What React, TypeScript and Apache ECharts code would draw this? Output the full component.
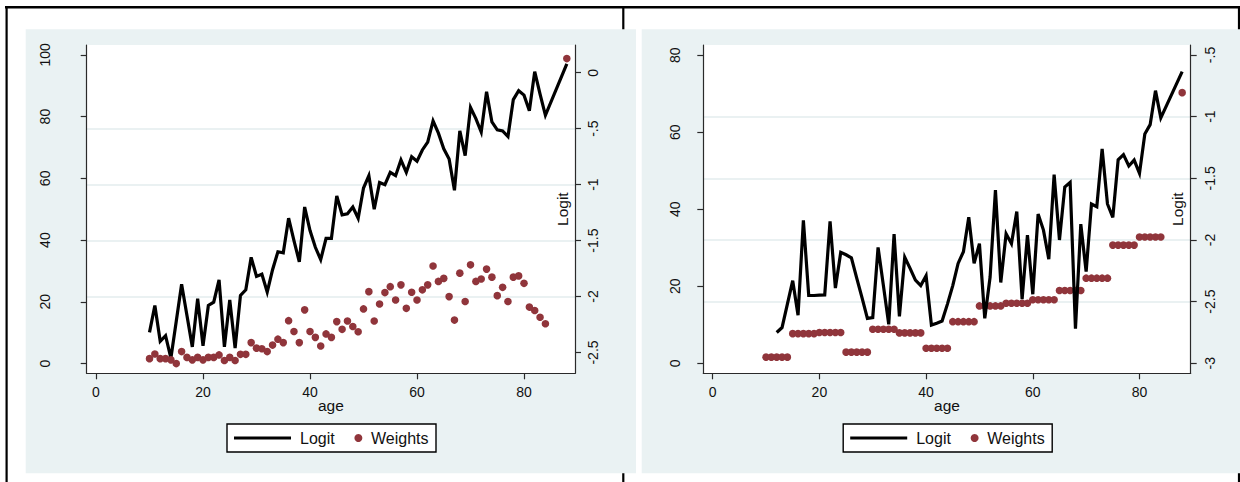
import React, { useEffect, useRef } from "react";
import * as echarts from "echarts";

// ---------- data ----------
const ages = [
  10, 11, 12, 13, 14, 15, 16, 17, 18, 19, 20, 21, 22, 23, 24, 25, 26, 27, 28, 29,
  30, 31, 32, 33, 34, 35, 36, 37, 38, 39, 40, 41, 42, 43, 44, 45, 46, 47, 48, 49,
  50, 51, 52, 53, 54, 55, 56, 57, 58, 59, 60, 61, 62, 63, 64, 65, 66, 67, 68, 69,
  70, 71, 72, 73, 74, 75, 76, 77, 78, 79, 80, 81, 82, 83, 84, 88,
];

// left panel
const logitLeft = [
  -2.32, -2.08, -2.4, -2.35, -2.55, -2.22, -1.89, -2.17, -2.45, -2.02,
  -2.44, -2.08, -2.05, -1.85, -2.45, -2.03, -2.46, -1.99, -1.94, -1.65,
  -1.82, -1.8, -1.96, -1.76, -1.6, -1.61, -1.3, -1.5, -1.69, -1.2,
  -1.41, -1.56, -1.67, -1.48, -1.48, -1.1, -1.27, -1.26, -1.2, -1.3,
  -1.03, -0.92, -1.22, -0.98, -1.0, -0.89, -0.92, -0.78, -0.89, -0.75,
  -0.79, -0.69, -0.62, -0.43, -0.54, -0.68, -0.77, -1.05, -0.52, -0.74,
  -0.31, -0.41, -0.53, -0.17, -0.44, -0.51, -0.52, -0.57, -0.24, -0.16,
  -0.2, -0.34, 0.01, -0.19, -0.38, 0.08,
];
const weightsLeft = [
  1.6, 3.1, 1.6, 1.6, 1.2, 0.0, 3.9, 2.0, 1.2, 2.0,
  1.2, 2.0, 2.0, 2.8, 1.0, 2.0, 1.0, 3.0, 3.0, 6.8,
  5.0, 4.8, 3.9, 6.0, 7.9, 6.8, 13.9, 10.4, 6.8, 17.4,
  10.4, 8.5, 5.7, 9.6, 8.5, 13.6, 11.1, 13.8, 12.0, 10.3,
  17.7, 23.3, 13.8, 19.3, 23.0, 24.9, 20.6, 25.5, 17.9, 23.1,
  20.6, 23.9, 25.5, 31.6, 26.6, 27.6, 21.7, 14.1, 29.3, 20.1,
  32.0, 26.6, 27.4, 30.6, 28.0, 22.0, 24.7, 20.1, 28.0, 28.4,
  26.0, 18.3, 17.2, 15.0, 12.9, 98.8,
];

// right panel
const logitRight = [
  null, null, -2.75, -2.71, -2.52, -2.33, -2.61, -1.84, -2.45, -2.45,
  -2.447, -2.446, -1.85, -2.39, -2.1, -2.12, -2.145, -2.31, -2.47, -2.636,
  -2.63, -2.06, -2.37, -2.684, -1.952, -2.62, -2.14, -2.23, -2.325, -2.37,
  -2.29, -2.69, -2.675, -2.657, -2.52, -2.37, -2.19, -2.095, -1.816, -2.19,
  -2.03, -2.636, -2.3, -1.595, -2.345, -1.95, -2.03, -1.77, -2.48, -1.96,
  -2.44, -1.79, -1.92, -2.155, -1.47, -2.0, -1.57, -1.533, -2.72, -1.872,
  -2.257, -1.708, -1.73, -1.262, -1.708, -1.816, -1.35, -1.308, -1.4, -1.352,
  -1.46, -1.14, -1.065, -0.789, -1.01, -0.635,
];
const weightsRight = [
  1.6, 1.6, 1.6, 1.6, 1.6, 7.7, 7.7, 7.7, 7.7, 7.7,
  8.0, 8.0, 8.0, 8.0, 8.0, 2.9, 2.9, 2.9, 2.9, 2.9,
  8.85, 8.85, 8.85, 8.85, 8.85, 7.9, 7.9, 7.9, 7.9, 7.9,
  3.9, 3.9, 3.9, 3.9, 3.9, 10.8, 10.8, 10.8, 10.8, 10.8,
  14.9, 14.9, 14.9, 14.9, 14.9, 15.6, 15.6, 15.6, 15.6, 15.6,
  16.5, 16.5, 16.5, 16.5, 16.5, 18.9, 18.9, 18.9, 18.9, 18.9,
  22.1, 22.1, 22.1, 22.1, 22.1, 30.7, 30.7, 30.7, 30.7, 30.7,
  32.8, 32.8, 32.8, 32.8, 32.8, 70.3,
];

const xTicks = [0, 20, 40, 60, 80];
const weightTicksLeft = [0, 20, 40, 60, 80, 100];
const logitTicksLeft = [-2.5, -2, -1.5, -1, -0.5, 0];
const weightTicksRight = [0, 20, 40, 60, 80];
const logitTicksRight = [-3, -2.5, -2, -1.5, -1, -0.5];

const lineName = "Logit";
const dotName = "Weights";
const xTitle = "age";
const y2Title = "Logit";

// ---------- styling / layout ----------
const FONT = '"Liberation Sans", Arial, Helvetica, sans-serif';
const MAROON = "#90353B";
const PANEL = "#EAF2F3";
const GRIDC = "#E3ECEE";
const AXIS = "#2a2a2a";

const fmt = (v: number) => String(v).replace(/^(-?)0\./, "$1.");

const panels = [
  {
    gridLeft: 86.7, gridWidth: 488.3,
    xMin: -1.74, xMax: 89.53,
    wMin: -3.15, wMax: 103.2,
    lMin: -2.686, lMax: 0.248,
    leftMargin: 35, rightMargin: 11,
    panelX: 25.7, legendX: 227,
    lineOnTop: false,
    weightTicks: weightTicksLeft, logitTicks: logitTicksLeft,
    logit: logitLeft, weights: weightsLeft,
  },
  {
    gridLeft: 703.3, gridWidth: 487.4,
    xMin: -1.76, xMax: 89.6,
    wMin: -2.6, wMax: 82.68,
    lMin: -3.081, lMax: -0.419,
    leftMargin: 21, rightMargin: 12,
    panelX: 641.7, legendX: 843.2,
    lineOnTop: true,
    weightTicks: weightTicksRight, logitTicks: logitTicksRight,
    logit: logitRight, weights: weightsRight,
  },
];

const GRID_TOP = 45;
const GRID_HEIGHT = 328.3;

function buildOption() {
  const grid: any[] = [];
  const xAxis: any[] = [];
  const yAxis: any[] = [];
  const series: any[] = [];
  const legend: any[] = [];
  const graphic: any[] = [];

  // frame lines (drawn beneath the panels)
  graphic.push(
    { type: "line", z: -20, shape: { x1: 5, y1: 7.3, x2: 1240, y2: 7.3 }, style: { stroke: "#000", lineWidth: 2.5 } },
    { type: "line", z: -20, shape: { x1: 6.6, y1: 6, x2: 6.6, y2: 482 }, style: { stroke: "#000", lineWidth: 2.2 } },
    { type: "line", z: -20, shape: { x1: 623.3, y1: 6, x2: 623.3, y2: 482 }, style: { stroke: "#000", lineWidth: 2.2 } },
    { type: "line", z: -20, shape: { x1: 1239, y1: 6, x2: 1239, y2: 482 }, style: { stroke: "#000", lineWidth: 2.2 } }
  );

  panels.forEach((p, i) => {
    graphic.push({
      type: "rect", z: -10,
      shape: { x: p.panelX, y: 29.3, width: 610.3, height: 444 },
      style: { fill: PANEL },
    });
    graphic.push({
      type: "rect", z: 3,
      shape: { x: p.legendX, y: 424, width: 209, height: 28 },
      style: { fill: "#fff", stroke: "#000", lineWidth: 1.4 },
    });

    grid.push({
      left: p.gridLeft, top: GRID_TOP, width: p.gridWidth, height: GRID_HEIGHT,
      show: true, backgroundColor: "#fff", borderWidth: 0, borderColor: "transparent",
      containLabel: false, outerBoundsMode: "none",
    });

    const tickStyle = { color: AXIS, width: 1.2 };
    const labelBase = { fontFamily: FONT, fontSize: 14, color: "#111" };

    xAxis.push({
      type: "value", gridIndex: i, min: p.xMin, max: p.xMax,
      axisLine: { show: true, onZero: false, lineStyle: tickStyle },
      axisTick: { show: true, length: 6, customValues: xTicks, lineStyle: tickStyle },
      axisLabel: { ...labelBase, customValues: xTicks, margin: 12, formatter: fmt },
      splitLine: { show: false },
      name: xTitle, nameLocation: "middle", nameGap: 24, nameMoveOverlap: false,
      nameTextStyle: { fontFamily: FONT, fontSize: 15.5, color: "#111" },
    });

    yAxis.push({
      type: "value", gridIndex: i, position: "left", min: p.wMin, max: p.wMax,
      axisLine: { show: true, onZero: false, lineStyle: tickStyle },
      axisTick: { show: true, length: 6, customValues: p.weightTicks, lineStyle: tickStyle },
      axisLabel: { ...labelBase, customValues: p.weightTicks, rotate: 90, margin: p.leftMargin, formatter: fmt },
      splitLine: { show: false },
    });

    yAxis.push({
      type: "value", gridIndex: i, position: "right", min: p.lMin, max: p.lMax,
      axisLine: { show: true, onZero: false, lineStyle: tickStyle },
      axisTick: { show: true, length: 6, customValues: p.logitTicks, lineStyle: tickStyle },
      axisLabel: { ...labelBase, customValues: p.logitTicks, rotate: 90, margin: p.rightMargin, formatter: fmt },
      splitLine: { show: true, showMinLine: false, showMaxLine: false, lineStyle: { color: GRIDC, width: 1.6 } },
      name: y2Title, nameLocation: "middle", nameRotate: 90, nameGap: -21, nameMoveOverlap: false,
      nameTextStyle: { fontFamily: FONT, fontSize: 15.5, color: "#111" },
    });

    series.push({
      type: "line", name: lineName, xAxisIndex: i, yAxisIndex: 2 * i + 1,
      data: ages.map((a, k) => [a, p.logit[k]]),
      symbol: "none", showSymbol: false, color: "#000",
      lineStyle: { color: "#000", width: 3.2, join: "miter", cap: "butt" },
      itemStyle: { color: "#000" },
      z: p.lineOnTop ? 4 : 2, silent: true, connectNulls: false,
    });
    series.push({
      type: "scatter", name: dotName, xAxisIndex: i, yAxisIndex: 2 * i,
      data: ages.map((a, k) => [a, p.weights[k]]),
      symbol: "circle", symbolSize: 7.6,
      itemStyle: { color: MAROON, opacity: 1 },
      z: p.lineOnTop ? 2 : 4, silent: true,
    });

    const dx = p.legendX - 227;
    legend.push({
      data: [{ name: lineName, icon: "rect" }],
      left: 234 + dx, top: 430, padding: 0, orient: "horizontal",
      itemWidth: 57, itemHeight: 3, selectedMode: false,
      itemStyle: { color: "#000", borderWidth: 0 },
      textStyle: { fontFamily: FONT, fontSize: 16, color: "#111", padding: [0, 0, 0, 4] },
    });
    legend.push({
      data: [{ name: dotName, icon: "circle" }],
      left: 354.4 + dx, top: 430, padding: 0, orient: "horizontal",
      itemWidth: 8, itemHeight: 8, selectedMode: false,
      itemStyle: { color: MAROON, borderWidth: 0 },
      textStyle: { fontFamily: FONT, fontSize: 16, color: "#111", padding: [0, 0, 0, 3.6] },
    });
  });

  return {
    animation: false,
    backgroundColor: "#fff",
    textStyle: { fontFamily: FONT },
    grid, xAxis, yAxis, series, legend, graphic,
  };
}

export default function App() {
  const ref = useRef<HTMLDivElement>(null);
  useEffect(() => {
    if (!ref.current) return;
    const chart = echarts.init(ref.current, undefined, { renderer: "svg" });
    chart.setOption(buildOption() as any);
    return () => chart.dispose();
  }, []);
  return (
    <div
      ref={ref}
      style={{ position: "fixed", left: 0, top: 0, width: 1240, height: 482 }}
    />
  );
}
